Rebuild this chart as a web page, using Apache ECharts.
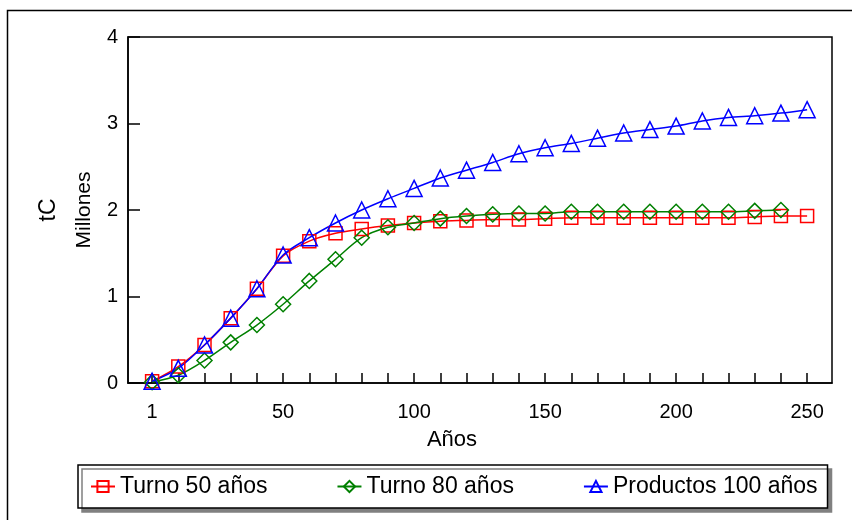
<!DOCTYPE html>
<html>
<head>
<meta charset="utf-8">
<script src="https://cdn.jsdelivr.net/npm/echarts@6/dist/echarts.min.js"></script>
<style>
  html, body { margin: 0; padding: 0; background: #fff; }
  #chart { width: 852px; height: 520px; }
</style>
</head>
<body>
<div id="chart"></div>
<script>
// years shown on the x axis (one category each)
const years = ['1', '10', '20', '30', '40', '50', '60', '70', '80', '90', '100', '110', '120', '130',
  '140', '150', '160', '170', '180', '190', '200', '210', '220', '230', '240', '250']
const labelYears = ['1', '50', '100', '150', '200', '250']

// millones tC
const turno50 = [0.02, 0.19, 0.44, 0.75, 1.09, 1.47, 1.64, 1.73, 1.78, 1.82, 1.85, 1.87, 1.88, 1.89,
  1.89, 1.90, 1.91, 1.91, 1.91, 1.91, 1.91, 1.91, 1.91, 1.92, 1.93, 1.93]
const turno80 = [0.01, 0.09, 0.26, 0.47, 0.67, 0.91, 1.18, 1.43, 1.68, 1.80, 1.85, 1.90, 1.93, 1.95,
  1.96, 1.96, 1.98, 1.98, 1.98, 1.98, 1.98, 1.98, 1.98, 1.99, 2.00, null]
const productos100 = [0.02, 0.17, 0.44, 0.75, 1.09, 1.48, 1.68, 1.85, 2.00, 2.13, 2.25, 2.37, 2.46, 2.55,
  2.65, 2.72, 2.77, 2.83, 2.89, 2.93, 2.97, 3.03, 3.07, 3.09, 3.12, 3.16]

const FONT = 'Liberation Sans'

function toPoints(values) {
  return values.map((v, i) => [i, v])
}

function makeSeries(name, values, color, symbol, size) {
  return {
    name: name,
    type: 'line',
    data: toPoints(values),
    smooth: 0.3,
    symbol: symbol,
    symbolSize: size,
    showAllSymbol: true,
    connectNulls: false,
    lineStyle: { color: color, width: 1.5 },
    itemStyle: { color: 'rgba(0,0,0,0)', borderColor: color, borderWidth: 1.5 },
    emphasis: { disabled: true },
    animation: false
  }
}

const chart = echarts.init(document.getElementById('chart'))

const option = {
  backgroundColor: '#fff',
  textStyle: { fontFamily: FONT, color: '#000' },
  grid: {
    left: 128,
    right: 20,
    top: 37,
    bottom: 137,
    show: true,
    borderColor: '#000',
    borderWidth: 1.5,
    backgroundColor: 'transparent'
  },
  xAxis: {
    type: 'value',
    min: -0.92,
    max: 25.95,
    axisLine: { show: true, onZero: false, lineStyle: { color: '#000', width: 1.5 } },
    axisTick: {
      show: true,
      inside: true,
      length: 10,
      customValues: years.map((y, i) => i),
      lineStyle: { color: '#000', width: 1.5 }
    },
    axisLabel: {
      customValues: labelYears.map(y => years.indexOf(y)),
      formatter: v => years[Math.round(v)],
      fontSize: 20,
      fontFamily: FONT,
      color: '#000',
      margin: 19
    },
    splitLine: { show: false }
  },
  yAxis: {
    type: 'value',
    min: 0,
    max: 4,
    interval: 1,
    axisLine: { show: true, onZero: false, lineStyle: { color: '#000', width: 1.5 } },
    axisTick: { show: true, inside: true, length: 12, lineStyle: { color: '#000', width: 1.5 } },
    axisLabel: { fontSize: 20, fontFamily: FONT, color: '#000', margin: 10 },
    splitLine: { show: false }
  },
  legend: {
    left: 78,
    top: 465,
    orient: 'horizontal',
    padding: [10, 10, 10, 12],
    itemGap: 69,
    itemWidth: 24,
    itemHeight: 14,
    borderColor: '#000',
    borderWidth: 1.5,
    backgroundColor: '#fff',
    shadowColor: '#808080',
    shadowBlur: 0,
    shadowOffsetX: 4,
    shadowOffsetY: 4,
    textStyle: { fontSize: 23, fontFamily: FONT, color: '#000' },
    data: ['Turno 50 años', 'Turno 80 años', 'Productos 100 años']
  },
  graphic: [
    {
      type: 'rect',
      left: 5,
      top: 8,
      shape: { width: 900, height: 600 },
      style: { fill: 'none', stroke: '#000', lineWidth: 1.5 },
      z: -10,
      silent: true
    },
    {
      type: 'text',
      x: 49,
      y: 210,
      rotation: Math.PI / 2,
      style: { text: 'tC', x: 0, y: 0, align: 'center', verticalAlign: 'middle', fontSize: 23, fontFamily: FONT, fill: '#000' }
    },
    {
      type: 'text',
      x: 84,
      y: 210,
      rotation: Math.PI / 2,
      style: { text: 'Millones', x: 0, y: 0, align: 'center', verticalAlign: 'middle', fontSize: 21, fontFamily: FONT, fill: '#000' }
    },
    {
      type: 'text',
      x: 452,
      y: 440,
      style: { text: 'Años', x: 0, y: 0, align: 'center', verticalAlign: 'middle', fontSize: 22, fontFamily: FONT, fill: '#000' }
    }
  ],
  series: [
    makeSeries('Turno 50 años', turno50, '#ff0000', 'rect', 13),
    makeSeries('Turno 80 años', turno80, '#008000', 'diamond', 15),
    makeSeries('Productos 100 años', productos100, '#0000ff', 'triangle', 16)
  ]
}

chart.setOption(option)
</script>
</body>
</html>
